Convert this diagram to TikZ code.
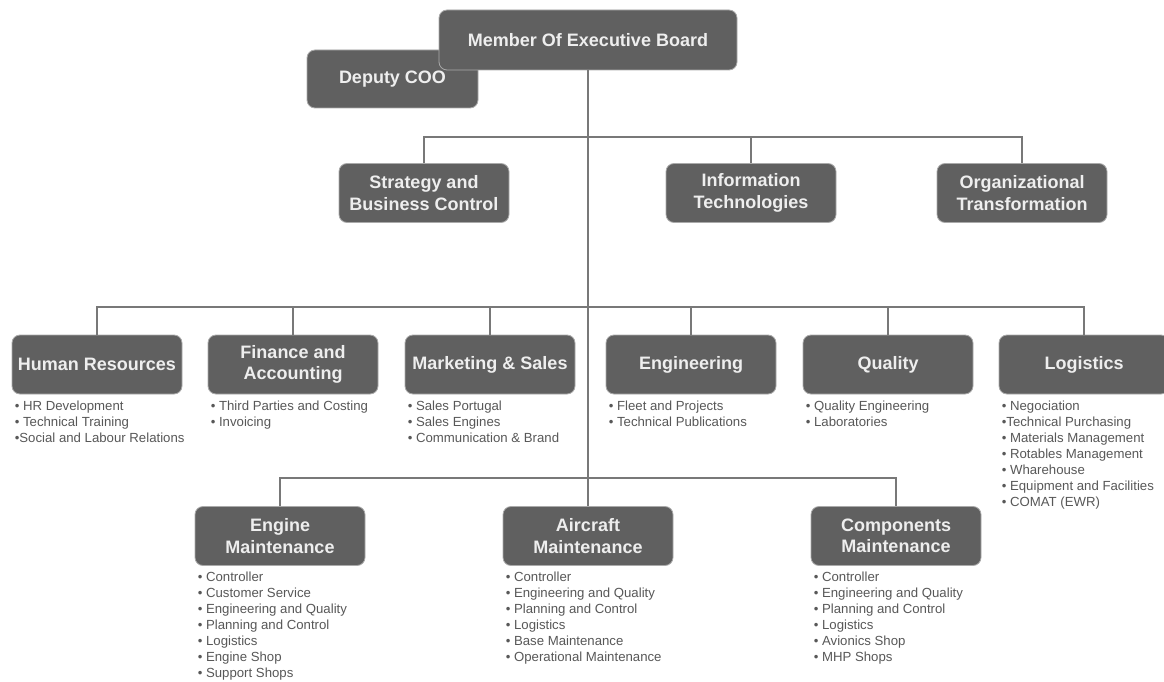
\documentclass[tikz,border=0pt]{standalone}
\usepackage{fontspec}
\setmainfont{Liberation Sans}
\definecolor{boxfill}{RGB}{96,96,96}
\definecolor{boxedge}{RGB}{170,170,170}
\definecolor{boxtext}{RGB}{238,238,238}
\definecolor{listtext}{RGB}{88,88,88}
\definecolor{linkcol}{RGB}{120,120,120}
\begin{document}
\begin{tikzpicture}[x=1pt,y=-1pt,
  unit/.style={draw=boxedge,line width=0.8pt,fill=boxfill,rounded corners=8pt,
    text=boxtext,font=\fontsize{18}{21.5}\selectfont\bfseries,align=center,
    minimum width=170pt,minimum height=59pt,inner sep=2pt},
  duties/.style={anchor=north west,inner sep=0pt,align=left,text=listtext,
    font=\fontsize{13.2}{16}\selectfont},
  link/.style={draw=linkcol,line width=1.2pt}]
\useasboundingbox (0,0) rectangle (1164,682);
\fill[white] (0,0) rectangle (1164,682);

% board level
\node[unit,minimum width=171pt,minimum height=58pt] (dep) at (392.5,79) {Deputy COO};
\node[unit,minimum width=298pt,minimum height=60pt] (meb) at (588,40) {Member Of Executive Board};

% staff units
\node[unit] (strat) at (424,193) {Strategy and\\Business Control};
\node[unit] (it) at (751,193) {Information\\Technologies};
\node[unit] (org) at (1022,193) {Organizational\\Transformation};

% support departments
\node[unit] (hr) at (97,364.5) {Human Resources};
\node[unit] (fin) at (293,364.5) {Finance and\\Accounting};
\node[unit] (mkt) at (490,364.5) {Marketing \& Sales};
\node[unit] (eng) at (691,364.5) {Engineering};
\node[unit] (qual) at (888,364.5) {Quality};
\node[unit] (log) at (1084,364.5) {Logistics};

% maintenance units
\node[unit] (emt) at (280,536) {Engine\\Maintenance};
\node[unit] (amt) at (588,536) {Aircraft\\Maintenance};
\node[unit] (cmt) at (896,536) {Components\\Maintenance};

% junctions on the trunk
\coordinate (j1) at (588,137);
\coordinate (j2) at (588,307);
\coordinate (j3) at (588,478);

% connectors
\draw[link] (meb.south) -- (amt.north);
\draw[link] (strat.north) |- (j1) -| (org.north);
\draw[link] (it.north) -- (it.north |- j1);
\draw[link] (hr.north) |- (j2) -| (log.north);
\draw[link] (fin.north) -- (fin.north |- j2);
\draw[link] (mkt.north) -- (mkt.north |- j2);
\draw[link] (eng.north) -- (eng.north |- j2);
\draw[link] (qual.north) -- (qual.north |- j2);
\draw[link] (emt.north) |- (j3) -| (cmt.north);

% duty lists
\node[duties] (hrl) at ([shift={(3,6)}]hr.south west)
  {• HR Development\\• Technical Training\\•Social and Labour Relations};
\node[duties] (finl) at ([shift={(3,6)}]fin.south west)
  {• Third Parties and Costing\\• Invoicing};
\node[duties] (mktl) at ([shift={(3,6)}]mkt.south west)
  {• Sales Portugal\\• Sales Engines\\• Communication \& Brand};
\node[duties] (engl) at ([shift={(3,6)}]eng.south west)
  {• Fleet and Projects\\• Technical Publications};
\node[duties] (quall) at ([shift={(3,6)}]qual.south west)
  {• Quality Engineering\\• Laboratories};
\node[duties] (logl) at ([shift={(3,6)}]log.south west)
  {• Negociation\\•Technical Purchasing\\• Materials Management\\• Rotables Management\\• Wharehouse\\• Equipment and Facilities\\• COMAT (EWR)};
\node[duties] (emtl) at ([shift={(3,6)}]emt.south west)
  {• Controller\\• Customer Service\\• Engineering and Quality\\• Planning and Control\\• Logistics\\• Engine Shop\\• Support Shops};
\node[duties] (amtl) at ([shift={(3,6)}]amt.south west)
  {• Controller\\• Engineering and Quality\\• Planning and Control\\• Logistics\\• Base Maintenance\\• Operational Maintenance};
\node[duties] (cmtl) at ([shift={(3,6)}]cmt.south west)
  {• Controller\\• Engineering and Quality\\• Planning and Control\\• Logistics\\• Avionics Shop\\• MHP Shops};
\end{tikzpicture}
\end{document}
